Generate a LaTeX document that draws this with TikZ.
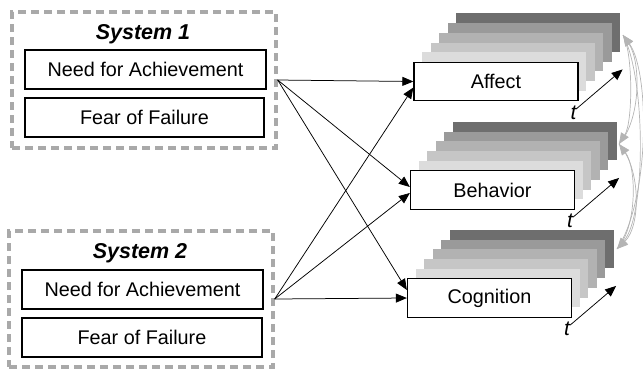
\documentclass[tikz,border=0pt]{standalone}
\usepackage{fontspec}
\setmainfont{Liberation Sans}
\usetikzlibrary{arrows.meta,calc}
\definecolor{frameg}{HTML}{A9A9A9}
\definecolor{lay1}{HTML}{DCDCDC}
\definecolor{lay2}{HTML}{C6C6C6}
\definecolor{lay3}{HTML}{B2B2B2}
\definecolor{lay4}{HTML}{9A9A9A}
\definecolor{lay5}{HTML}{6E6E6E}
\definecolor{loopg}{HTML}{B4B4B4}
\begin{document}
\begin{tikzpicture}[x=1pt,y=-1pt,
  sysframe/.style={draw=frameg,line width=3.4pt,dash pattern=on 8pt off 5pt,
    minimum width=264pt,minimum height=136pt,inner sep=0pt},
  systitle/.style={font=\fontsize{21.5}{24}\selectfont\bfseries\itshape,inner sep=0pt},
  traitbox/.style={draw=black,line width=1.3pt,fill=white,minimum height=39pt,
    inner sep=0pt,font=\fontsize{19.8}{22}\selectfont},
  outbox/.style={traitbox,minimum width=164pt,minimum height=38.5pt},
  tlabel/.style={font=\fontsize{21}{22}\selectfont\itshape,inner sep=1pt},
  inarrow/.style={line width=0.75pt,-{Triangle[length=11pt,width=9pt]}},
  tarrow/.style={line width=0.75pt,-{Triangle[length=11pt,width=9pt]}},
  looparrow/.style={draw=loopg,line width=0.7pt,
    -{Triangle[length=11pt,width=9pt,fill=loopg]}},
  layer/.style={fill=#1,draw=none}]
\useasboundingbox (0,0) rectangle (643,368);

% ---------- left: the two motive systems ----------
\node[sysframe] (s1) at (144,80) {};
\node[systitle] (s1t) at (143,34) {System 1};
\node[traitbox,minimum width=241pt] (n1) at (145.5,69.5) {Need for Achievement};
\node[traitbox,minimum width=239pt] (f1) at (144.5,117.5) {Fear of Failure};

\node[sysframe] (s2) at (141,299) {};
\node[systitle] (s2t) at (140,253) {System 2};
\node[traitbox,minimum width=241pt] (n2) at (142.5,289.5) {Need for Achievement};
\node[traitbox,minimum width=240pt] (f2) at (142,337.5) {Fear of Failure};

% ---------- right: outcome stacks over time ----------
\newcommand{\timestack}[3]{%
  % #1 = centre, #2 = name, #3 = label
  \foreach \k/\c in {5/lay5,4/lay4,3/lay3,2/lay2,1/lay1}{
    \fill[layer=\c] ($#1+(8.4*\k-82,-9.8*\k-19.25)$) rectangle ($#1+(8.4*\k+82,-9.8*\k+19.25)$);
  }
  \node[outbox] (#2) at #1 {#3};
}
\timestack{(496,81.5)}{aff}{Affect}
\timestack{(492.5,190)}{beh}{Behavior}
\timestack{(489.5,298)}{cog}{Cognition}

% time axes
\foreach \b in {aff,beh,cog}{
  \node[tlabel,anchor=north] (t\b) at ($(\b.south east)+(-5,3)$) {t};
  \coordinate (tip\b) at ($(\b.south east)+(44,-32)$);
  \draw[tarrow] ($(t\b.east)+(-1,-4)$) -- (tip\b);
}

% ---------- paths from systems to outcomes ----------
\coordinate (src1) at (s1.east);
\coordinate (src2) at (s2.east);
\draw[inarrow] (src1) -- (aff.west);
\draw[inarrow] (src1) -- ([yshift=3pt]beh.west);
\draw[inarrow] (src1) -- ([yshift=8pt]cog.west);
\draw[inarrow] (src2) -- ([yshift=-6pt]aff.west);
\draw[inarrow] (src2) -- ([yshift=-3pt]beh.west);
\draw[inarrow] (src2) -- (cog.west);

% ---------- mutual feedback between outcomes ----------
\coordinate (pA) at (623,35);
\coordinate (pB) at (619,144);
\coordinate (pC) at (617,249);
\draw[looparrow] (pB) .. controls (641,120) and (641,62) .. (pA);
\draw[looparrow] (pC) .. controls (650,200) and (650,72) .. (pA);
\draw[looparrow] (pA) .. controls (633,52) and (633,122) .. (pB);
\draw[looparrow] (pC) .. controls (637,228) and (637,168) .. (pB);
\draw[looparrow] (pB) .. controls (641,168) and (641,226) .. (pC);
\draw[looparrow] (pA) .. controls (646,78) and (646,215) .. (pC);
\end{tikzpicture}
\end{document}
